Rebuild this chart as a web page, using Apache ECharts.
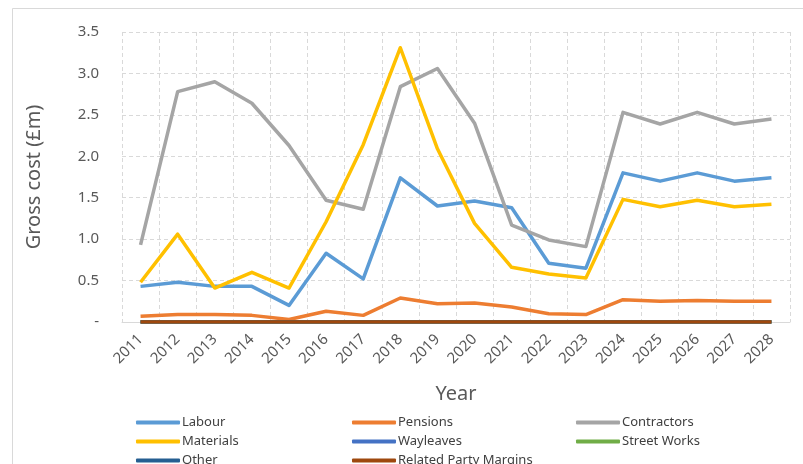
<!DOCTYPE html>
<html>
<head>
<meta charset="utf-8">
<script src="https://cdn.jsdelivr.net/npm/echarts@6/dist/echarts.min.js"></script>
<style>
  html, body { margin: 0; padding: 0; background: #fff; }
  #chart { width: 803px; height: 464px; }
</style>
</head>
<body>
<div id="chart"></div>
<script>
const years = ['2011', '2012', '2013', '2014', '2015', '2016', '2017', '2018', '2019',
  '2020', '2021', '2022', '2023', '2024', '2025', '2026', '2027', '2028'];

const labour = [0.43, 0.48, 0.43, 0.43, 0.20, 0.83, 0.52, 1.74, 1.40, 1.46, 1.38, 0.71, 0.65, 1.80, 1.70, 1.80, 1.70, 1.74];
const pensions = [0.07, 0.09, 0.09, 0.08, 0.03, 0.13, 0.08, 0.29, 0.22, 0.23, 0.18, 0.10, 0.09, 0.27, 0.25, 0.26, 0.25, 0.25];
const contractors = [0.93, 2.78, 2.90, 2.64, 2.13, 1.47, 1.36, 2.84, 3.06, 2.40, 1.17, 0.99, 0.91, 2.53, 2.39, 2.53, 2.39, 2.45];
const materials = [0.48, 1.06, 0.41, 0.60, 0.41, 1.21, 2.14, 3.31, 2.09, 1.19, 0.66, 0.58, 0.53, 1.48, 1.39, 1.47, 1.39, 1.42];
const wayleaves = [0, 0, 0, 0, 0, 0, 0, 0, 0, 0, 0, 0, 0, 0, 0, 0, 0, 0];
const streetWorks = [0, 0, 0, 0, 0, 0, 0, 0, 0, 0, 0, 0, 0, 0, 0, 0, 0, 0];
const other = [0, 0, 0, 0, 0, 0, 0, 0, 0, 0, 0, 0, 0, 0, 0, 0, 0, 0];
const relatedParty = [0, 0, 0, 0, 0, 0, 0, 0, 0, 0, 0, 0, 0, 0, 0, 0, 0, 0];

const chart = echarts.init(document.getElementById('chart'));

const font = '"Noto Sans", "Open Sans", sans-serif';

function mkLine(name, data, color) {
  return {
    name: name,
    type: 'line',
    data: data,
    symbol: 'none',
    lineStyle: { width: 3.5, color: color, join: 'round' },
    itemStyle: { color: color }
  };
}

// one legend per entry so the 3-column grid lines up like the original
function mkLegend(name, left, top) {
  return {
    left: left,
    top: top,
    itemWidth: 44,
    itemHeight: 4,
    icon: 'roundRect',
    textStyle: { color: '#404040', fontSize: 13, fontFamily: font, padding: [0, 0, 0, -3] },
    data: [name]
  };
}

const option = {
  backgroundColor: '#fff',
  animation: false,
  textStyle: { fontFamily: font },
  graphic: [{
    type: 'rect',
    shape: { x: 12.5, y: 8.5, width: 800, height: 470 },
    style: { fill: 'none', stroke: '#d9d9d9', lineWidth: 1 },
    silent: true
  }],
  grid: { left: 122, right: 13, top: 32, bottom: 142 },
  legend: [
    mkLegend('Labour', 131, 411),
    mkLegend('Materials', 131, 430),
    mkLegend('Other', 131, 449),
    mkLegend('Pensions', 347, 411),
    mkLegend('Wayleaves', 347, 430),
    mkLegend('Related Party Margins', 347, 449),
    mkLegend('Contractors', 571, 411),
    mkLegend('Street Works', 571, 430)
  ],
  xAxis: {
    type: 'category',
    data: years,
    boundaryGap: true,
    name: 'Year',
    nameLocation: 'middle',
    nameGap: 62,
    nameTextStyle: { fontSize: 20, color: '#595959' },
    axisLine: { lineStyle: { color: '#d9d9d9', width: 1 } },
    axisTick: { show: false },
    axisLabel: { rotate: 45, fontSize: 15, color: '#595959', margin: 15, interval: 0 },
    splitLine: { show: true, lineStyle: { color: '#d9d9d9', type: [4, 3], width: 1 } }
  },
  yAxis: {
    type: 'value',
    min: 0,
    max: 3.5,
    interval: 0.5,
    name: 'Gross cost (£m)',
    nameLocation: 'middle',
    nameGap: 78,
    nameTextStyle: { fontSize: 20, color: '#595959' },
    axisLine: { show: false },
    axisTick: { show: false },
    axisLabel: {
      fontSize: 15,
      color: '#595959',
      margin: 23,
      formatter: function (v) { return v === 0 ? '-' : v.toFixed(1); }
    },
    splitLine: { lineStyle: { color: '#d9d9d9', type: [4, 3], width: 1 } }
  },
  series: [
    mkLine('Labour', labour, '#5B9BD5'),
    mkLine('Pensions', pensions, '#ED7D31'),
    mkLine('Contractors', contractors, '#A5A5A5'),
    mkLine('Materials', materials, '#FFC000'),
    mkLine('Wayleaves', wayleaves, '#4472C4'),
    mkLine('Street Works', streetWorks, '#70AD47'),
    mkLine('Other', other, '#255E91'),
    mkLine('Related Party Margins', relatedParty, '#9E480E')
  ]
};

chart.setOption(option);
</script>
</body>
</html>
